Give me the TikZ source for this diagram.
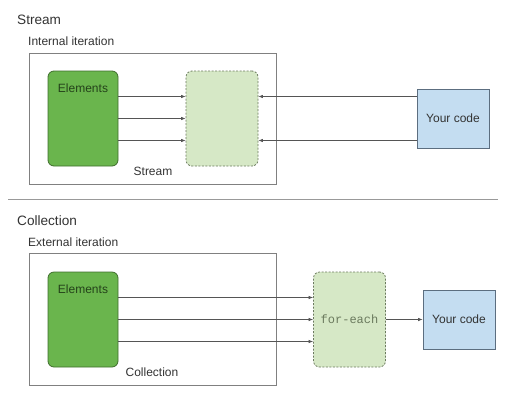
\documentclass[tikz,border=0pt]{standalone}
\usepackage{fontspec}
\setmainfont{Liberation Sans}
\setmonofont{Liberation Mono}
\usepackage{xcolor}
\usepackage{tikz}
\usetikzlibrary{arrows.meta, positioning}

\definecolor{txtgray}{HTML}{333333}
\definecolor{linegray}{HTML}{555555}
\definecolor{framegray}{HTML}{808080}
\definecolor{elemfill}{HTML}{6AB54D}
\definecolor{elemdraw}{HTML}{3F6E2C}
\definecolor{elemtext}{HTML}{24421A}
\definecolor{pipefill}{HTML}{D6E8C6}
\definecolor{pipedraw}{HTML}{6B7A5E}
\definecolor{codefill}{HTML}{C4DDF1}
\definecolor{codedraw}{HTML}{5C6E80}

\begin{document}
\begin{tikzpicture}[x=1pt, y=-1pt, font=\fontsize{12}{14}\selectfont, text=txtgray,
		framebox/.style={draw=framegray, line width=0.8pt, rectangle, inner sep=0pt},
		elembox/.style={draw=elemdraw, fill=elemfill, line width=0.8pt, rounded corners=6pt,
			minimum width=70pt, minimum height=95pt, inner sep=0pt},
		pipebox/.style={draw=pipedraw, fill=pipefill, line width=0.8pt, dash pattern=on 2pt off 1.5pt,
			rounded corners=6pt, minimum width=72pt, minimum height=95pt, inner sep=0pt},
		codebox/.style={draw=codedraw, fill=codefill, line width=0.8pt,
			minimum width=72pt, minimum height=59pt, inner sep=0pt},
		flow/.style={draw=linegray, line width=0.7pt, -{Latex[length=4.5pt, width=3.5pt]}},
		title/.style={anchor=west, inner sep=0pt, font=\fontsize{13.6}{16}\selectfont},
		subtitle/.style={anchor=west, inner sep=0pt}]
				\useasboundingbox (0,0) rectangle (529,410);
				% Stream: internal iteration
				\node[title] (streamtitle) at (17,20) {Stream};
				\node[subtitle] (inttitle) at (28,41) {Internal iteration};
				\node[framebox, minimum width=247pt, minimum height=131pt] (intframe) at (152.5,118.5) {};
				\node[elembox, label={[anchor=center, yshift=-18pt, text=elemtext]north:Elements}] (intelem) at (83,118.5) {};
				\node[pipebox] (intpipe) at (222,118.5) {};
				\node (streamlbl) at (153,171) {Stream};
				\node[codebox] (intcode) at (453,118.5) {Your code};
				\foreach \dy in {-22,0,22}
					\draw[flow] ([yshift=\dy pt]intelem.east) -- ([yshift=\dy pt]intpipe.west);
				\foreach \dy in {-22,22}
					\draw[flow] ([yshift=\dy pt]intcode.west) -- ([yshift=\dy pt]intpipe.east);
				% Separator
				\coordinate (sepL) at (8,199.5);
				\coordinate (sepR) at (498,199.5);
				\draw[color=framegray!80, line width=1.3pt] (sepL) -- (sepR);
				% Collection: external iteration
				\node[title] (colltitle) at (17,221) {Collection};
				\node[subtitle] (exttitle) at (28,242) {External iteration};
				\node[framebox, minimum width=247pt, minimum height=132pt] (extframe) at (152.5,319) {};
				\node[elembox, label={[anchor=center, yshift=-18pt, text=elemtext]north:Elements}] (extelem) at (83,319.5) {};
				\node (colllbl) at (152,372) {Collection};
				\node[pipebox, text=pipedraw, font=\ttfamily\fontsize{12}{14}\selectfont] (extpipe) at (349.5,319.5) {for-each};
				\node[codebox] (extcode) at (459,319.5) {Your code};
				\foreach \dy in {-22,0,22}
					\draw[flow] ([yshift=\dy pt]extelem.east) -- ([yshift=\dy pt]extpipe.west);
				\draw[flow] (extpipe) -- (extcode);
			\end{tikzpicture}
\end{document}
